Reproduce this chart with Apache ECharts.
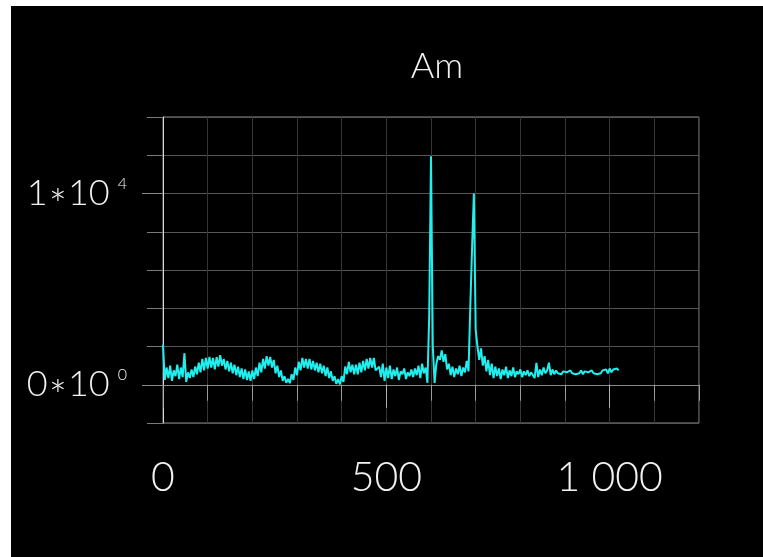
<!DOCTYPE html>
<html>
<head>
<meta charset="utf-8">
<script src="https://cdn.jsdelivr.net/npm/echarts@6/dist/echarts.min.js"></script>
<style>
html,body{margin:0;padding:0;background:#fff;width:763px;height:557px;overflow:hidden;}
#chart{position:absolute;left:11px;top:6px;width:752px;height:551px;background:#000;}
</style>
</head>
<body>
<div id="chart"></div>
<script>
// Data
const titleText = 'Am';
const xStep = 4; // spacing of the readings along x
const amValues = [
2100,250,900,350,1000,200,750,450,1050,300,
900,400,1650,150,650,350,800,400,950,550,
1150,650,1350,750,1400,850,1450,900,1400,800,
1450,950,1550,1000,1350,800,1250,700,1150,600,
1050,500,950,400,850,300,800,250,700,200,
750,300,900,450,1150,650,1350,850,1500,1000,
1450,900,1300,600,1000,400,750,200,450,100,
300,80,550,250,900,500,1200,750,1400,900,
1350,850,1350,800,1250,750,1150,650,1100,600,
1000,450,900,350,700,200,450,50,300,20,
450,150,950,550,1200,650,1050,550,1050,550,
1150,650,1250,750,1350,850,1400,900,1400,750,
700,950,400,1100,200,900,350,1000,300,800,
450,900,250,700,550,850,300,650,450,800,
400,850,500,1000,350,1100,600,900,100,3600,
11950,2000,100,1100,1500,1300,1800,1200,1600,800,
1100,500,950,400,850,550,1000,450,900,650,
1250,700,4100,7200,10000,2900,2000,1300,1900,1000,
1500,700,1300,500,1100,350,950,450,850,300,
800,500,950,350,750,450,900,400,700,550,
800,400,700,500,750,450,650,550,350,1150,
400,800,500,900,600,750,1150,500,800,550,
750,600,700,550,700,600,650,550,750,600,
700,550,650,600,750,550,700,600,650,550,
750,600,700,550,650,600,750,650,800,600,
850,650,800,700,850,750
];
const xTickLabels = [0, 500, 1000];
const yTickLabels = [0, 10000];

const seriesData = amValues.map((v, i) => [i * xStep, v]);

const FONT = 'Lato';
const chart = echarts.init(document.getElementById('chart'), null, {renderer: 'canvas'});
chart.setOption({
  backgroundColor: '#000',
  animation: false,
  title: {
    text: titleText,
    left: 421,
    top: 37,
    textAlign: 'center',
    textStyle: {color: '#f2f2f2', fontFamily: FONT, fontWeight: 300, fontSize: 36}
  },
  grid: {left: 152, top: 111, width: 536, height: 306, show: true, borderColor: '#8a8a8a', borderWidth: 1, backgroundColor: 'transparent'},
  xAxis: [
    {
      type: 'value', position: 'bottom', min: 0, max: 1200, interval: 100,
      axisLine: {show: true, lineStyle: {color: '#8a8a8a', width: 1}},
      axisTick: {show: true, length: 16, lineStyle: {color: '#9a9a9a', width: 1}},
      axisLabel: {show: false},
      splitLine: {show: true, lineStyle: {color: '#363636', width: 1}}
    },
    {
      type: 'value', position: 'bottom', min: 0, max: 1200, interval: 500,
      axisLine: {show: false},
      axisTick: {show: true, length: 23, customValues: xTickLabels, lineStyle: {color: '#b0b0b0', width: 1}},
      axisLabel: {
        show: true, customValues: xTickLabels, margin: 34,
        color: '#f2f2f2', fontFamily: FONT, fontWeight: 300, fontSize: 41,
        formatter: v => (v % 500 === 0 && v <= 1000) ? (v >= 1000 ? String(v).replace(/(\d)(\d{3})$/, '$1 $2') : String(v)) : ''
      },
      splitLine: {show: false}
    }
  ],
  yAxis: [
    {
      type: 'value', position: 'left', min: -2000, max: 14000, interval: 2000,
      axisLine: {show: true, lineStyle: {color: '#d8d8d8', width: 1}},
      axisTick: {show: true, length: 16, lineStyle: {color: '#7a7a7a', width: 1}},
      axisLabel: {show: false},
      splitLine: {show: true, lineStyle: {color: '#555555', width: 1}}
    },
    {
      type: 'value', position: 'left', min: -2000, max: 14000, interval: 2000,
      axisLine: {show: false},
      axisTick: {show: true, length: 21, customValues: yTickLabels, lineStyle: {color: '#8a8a8a', width: 1}},
      axisLabel: {
        show: true, customValues: yTickLabels, margin: 36,
        formatter: v => v === 0 ? '{b|0}{a|*}{b|10}{s|0}' : (v === 10000 ? '{b|1}{a|*}{b|10}{s|4}' : ''),
        rich: {
          b: {color: '#f2f2f2', fontFamily: FONT, fontWeight: 300, fontSize: 36, lineHeight: 36, verticalAlign: 'top'},
          a: {color: '#f2f2f2', fontFamily: FONT, fontWeight: 300, fontSize: 43, lineHeight: 36, verticalAlign: 'top', padding: [10, 1, 0, 1]},
          s: {color: '#f2f2f2', fontFamily: FONT, fontWeight: 300, fontSize: 16, verticalAlign: 'top', lineHeight: 36, padding: [0, 0, 0, 8]}
        }
      },
      splitLine: {show: false}
    }
  ],
  series: [{
    name: titleText,
    type: 'line',
    xAxisIndex: 0,
    yAxisIndex: 0,
    data: seriesData,
    showSymbol: false,
    symbol: 'none',
    lineStyle: {color: '#1ff0ef', width: 2},
    z: 5
  }]
});
</script>
</body>
</html>
